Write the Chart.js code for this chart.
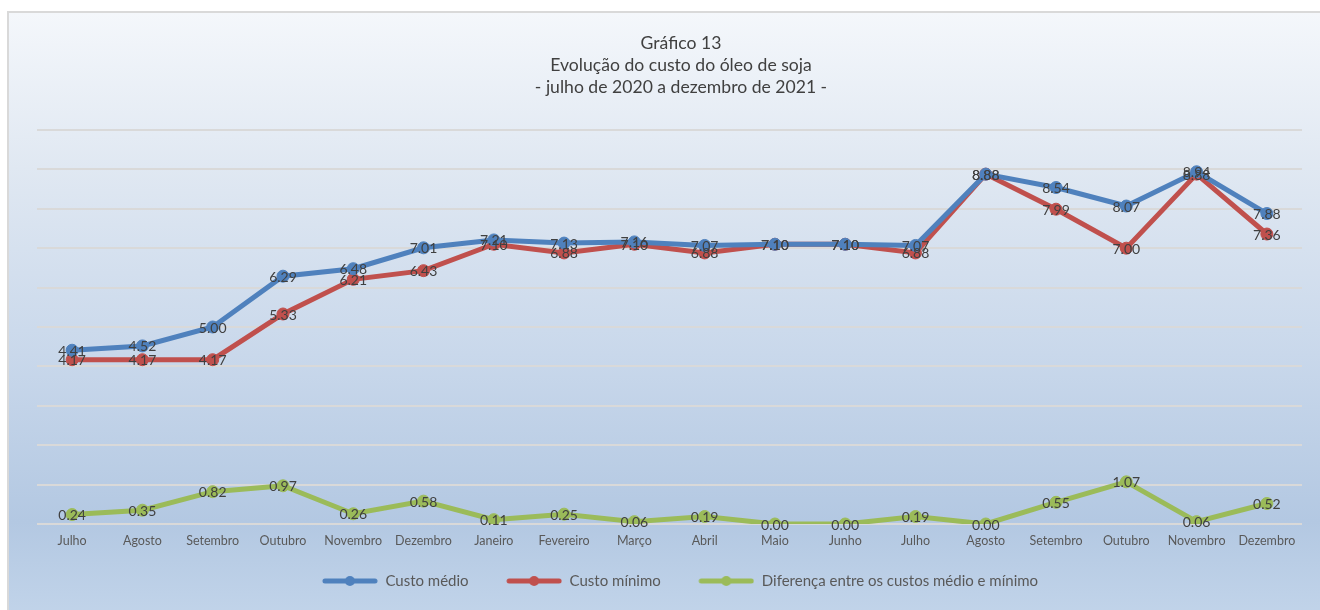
<!DOCTYPE html>
<html>
<head>
<meta charset="utf-8">
<script src="https://cdn.jsdelivr.net/npm/chart.js@4.4.1/dist/chart.umd.min.js"></script>
<style>
html, body { margin: 0; padding: 0; background: #fff; overflow: hidden; }
#moldura {
    position: absolute; left: 7px; top: 11px; width: 1330px; height: 620px;
    border-top: 2px solid #d9d9d9; border-left: 2px solid #d9d9d9;
    background: linear-gradient(to bottom, #f4f7fb 0%, #e0e8f2 25%, #c9d8eb 55%, #b3c8e2 82%, #c4d6eb 100%);
}
#grafico { position: absolute; left: 0; top: 0; }
</style>
</head>
<body>
<div id="moldura"></div>
<canvas id="grafico" width="1325" height="610"></canvas>
<script>
// DADOS DO GRÁFICO
const meses = ["Julho", "Agosto", "Setembro", "Outubro", "Novembro", "Dezembro", "Janeiro", "Fevereiro", "Março",
    "Abril", "Maio", "Junho", "Julho", "Agosto", "Setembro", "Outubro", "Novembro", "Dezembro"];
const custoMedio = [4.41, 4.52, 5.00, 6.29, 6.48, 7.01, 7.21, 7.13, 7.16, 7.07, 7.10, 7.10, 7.07, 8.88, 8.54, 8.07, 8.94, 7.88];
const custoMinimo = [4.17, 4.17, 4.17, 5.33, 6.21, 6.43, 7.10, 6.88, 7.10, 6.88, 7.10, 7.10, 6.88, 8.88, 7.99, 7.00, 8.88, 7.36];
const diferenca = [0.24, 0.35, 0.82, 0.97, 0.26, 0.58, 0.11, 0.25, 0.06, 0.19, 0.00, 0.00, 0.19, 0.00, 0.55, 1.07, 0.06, 0.52];
const nomesSeries = ["Custo médio", "Custo mínimo", "Diferença entre os custos médio e mínimo"];
const cores = ["#4f81bd", "#c0504d", "#9bbb59"];
const titulo = ["Gráfico 13", "Evolução do custo do óleo de soja", "- julho de 2020 a dezembro de 2021 -"];

Chart.defaults.font.family = "Lato, 'Open Sans', sans-serif";

// AMOSTRAS DA LEGENDA (linha com marcador, com folga à esquerda)
function criarAmostra(cor) {
    const c = document.createElement("canvas");
    c.width = 77;
    c.height = 14;
    const g = c.getContext("2d");
    g.strokeStyle = cor;
    g.lineWidth = 5;
    g.lineCap = "round";
    g.beginPath();
    g.moveTo(24, 7);
    g.lineTo(74, 7);
    g.stroke();
    g.fillStyle = cor;
    g.beginPath();
    g.arc(49, 7, 5, 0, Math.PI * 2);
    g.fill();
    return c;
}
const amostras = cores.map(criarAmostra);

// RÓTULOS DE VALOR SOBRE OS PONTOS
const rotulosValores = {
    id: "rotulosValores",
    afterDatasetsDraw(chart) {
        const ctx = chart.ctx;
        ctx.save();
        ctx.font = "14px Lato";
        ctx.fillStyle = "#404040";
        ctx.textAlign = "center";
        ctx.textBaseline = "middle";
        chart.data.datasets.forEach((ds, i) => {
            chart.getDatasetMeta(i).data.forEach((pt, j) => {
                ctx.fillText(ds.data[j].toFixed(2), pt.x, pt.y + 1);
            });
        });
        ctx.restore();
    }
};

const series = [custoMedio, custoMinimo, diferenca].map((valores, i) => ({
    label: nomesSeries[i],
    data: valores,
    borderColor: cores[i],
    backgroundColor: cores[i],
    borderWidth: 5,
    pointRadius: 6,
    pointBorderWidth: 1,
    pointBorderColor: cores[i],
    tension: 0
}));

new Chart(document.getElementById("grafico"), {
    type: "line",
    data: { labels: meses, datasets: series },
    options: {
        responsive: false,
        animation: false,
        layout: { padding: { left: 37, right: 0, top: 0, bottom: 11.5 } },
        plugins: {
            title: {
                display: true,
                text: titulo,
                color: "#404040",
                font: { size: 17.6, weight: "normal", lineHeight: 1.25 },
                padding: { top: 32, bottom: 32 }
            },
            legend: {
                position: "bottom",
                fullSize: false,
                labels: {
                    usePointStyle: true,
                    pointStyleWidth: 77,
                    padding: 16.5,
                    color: "#595959",
                    font: { size: 15 },
                    generateLabels(chart) {
                        const itens = Chart.defaults.plugins.legend.labels.generateLabels(chart);
                        itens.forEach((item, i) => { item.pointStyle = amostras[i]; });
                        return itens;
                    }
                }
            },
            tooltip: { enabled: false }
        },
        scales: {
            x: {
                offset: true,
                grid: { display: false, drawTicks: false },
                border: { display: false },
                ticks: { color: "#595959", font: { size: 12.5 }, padding: 9, maxRotation: 0, autoSkip: false }
            },
            y: {
                min: 0,
                max: 10,
                ticks: { display: false, stepSize: 1 },
                grid: { color: "#d9d9d9", lineWidth: 2, drawTicks: false },
                border: { display: false },
                afterFit(escala) { escala.width = 0; }
            },
            y2: {
                position: "right",
                min: 0,
                max: 10,
                ticks: { display: false },
                grid: { display: false, drawTicks: false },
                border: { display: false },
                afterFit(escala) { escala.width = 23; }
            }
        }
    },
    plugins: [rotulosValores]
});
</script>
</body>
</html>
